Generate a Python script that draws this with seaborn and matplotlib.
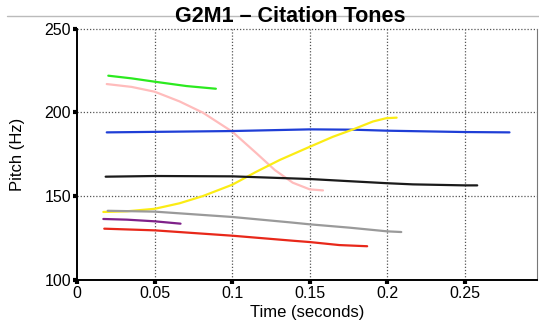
import pandas as pd
import seaborn as sns
import matplotlib.pyplot as plt
from matplotlib.lines import Line2D

# pitch tracks (time in s, pitch in Hz)
tones = ["green", "pink", "blue", "yellow", "black", "gray", "purple", "red"]

green_t = [0.020, 0.035, 0.050, 0.0705, 0.0894]
green_hz = [221.9, 220.3, 218.3, 215.7, 214.1]

pink_t = [0.019, 0.035, 0.050, 0.066, 0.081, 0.100, 0.1156, 0.1274, 0.139, 0.150, 0.1585]
pink_hz = [216.9, 215.2, 212.3, 206.5, 199.8, 188.4, 175.5, 165.5, 157.9, 153.9, 153.3]

blue_t = [0.019, 0.060, 0.100, 0.150, 0.178, 0.200, 0.250, 0.2788]
blue_hz = [188.0, 188.4, 188.8, 189.8, 189.6, 189.0, 188.2, 188.0]

yellow_t = [0.0168, 0.032, 0.050, 0.066, 0.081, 0.100, 0.1156, 0.1306, 0.150, 0.165, 0.178,
            0.1907, 0.1994, 0.206]
yellow_hz = [140.4, 140.8, 142.3, 145.6, 149.9, 156.7, 164.5, 171.5, 179.4, 185.4, 189.8,
             194.5, 196.5, 196.8]

black_t = [0.0183, 0.050, 0.100, 0.150, 0.1736, 0.1997, 0.2165, 0.250, 0.258]
black_hz = [161.5, 161.9, 161.7, 160.1, 158.9, 157.6, 156.9, 156.3, 156.3]

gray_t = [0.0196, 0.050, 0.100, 0.137, 0.150, 0.1757, 0.200, 0.209]
gray_hz = [141.1, 140.6, 137.4, 134.2, 133.0, 131.0, 128.8, 128.4]

purple_t = [0.0168, 0.032, 0.050, 0.0666]
purple_hz = [136.2, 135.8, 134.8, 133.4]

red_t = [0.0174, 0.050, 0.100, 0.139, 0.150, 0.169, 0.187]
red_hz = [130.4, 129.4, 126.2, 123.2, 122.4, 120.6, 119.9]

colors = {"green": "#2bea1f", "pink": "#ffbcbc", "blue": "#1f3ed6", "yellow": "#fbec14",
          "black": "#1a1a1a", "gray": "#9a9a9a", "purple": "#7f2189", "red": "#e8281a"}

tracks = {"green": (green_t, green_hz), "pink": (pink_t, pink_hz), "blue": (blue_t, blue_hz),
          "yellow": (yellow_t, yellow_hz), "black": (black_t, black_hz),
          "gray": (gray_t, gray_hz), "purple": (purple_t, purple_hz), "red": (red_t, red_hz)}

rows = []
for name in tones:
    t, hz = tracks[name]
    for a, b in zip(t, hz):
        rows.append({"tone": name, "time": a, "pitch": b})
df = pd.DataFrame(rows)

sns.set_style("white", {"text.color": "black", "axes.labelcolor": "black",
                        "xtick.color": "black", "ytick.color": "black"})
plt.rcParams["font.family"] = ["Liberation Sans", "DejaVu Sans"]

fig = plt.figure(figsize=(5.39, 3.30), dpi=100)
ax = fig.add_axes([0.1434, 0.153, 0.853, 0.760])

sns.lineplot(data=df, x="time", y="pitch", hue="tone", palette=colors, hue_order=tones,
             sort=False, estimator=None, legend=False, linewidth=1.6, ax=ax)

ax.set_xlim(0, 0.2966)
ax.set_ylim(100, 250)
ax.set_xticks([0, 0.05, 0.1, 0.15, 0.2, 0.25])
ax.set_xticklabels(["0", "0.05", "0.1", "0.15", "0.2", "0.25"])
ax.set_yticks([100, 150, 200, 250])
ax.tick_params(axis="both", direction="out", length=3, width=3, color="black",
               labelcolor="black", labelsize=11.5, pad=1.5, bottom=True, left=True)

for v in [0.05, 0.1, 0.15, 0.2, 0.25]:
    ax.axvline(v, color="#555555", lw=0.9, ls=(0, (1, 1.5)), zorder=0)
for v in [150, 200, 250]:
    ax.axhline(v, color="#555555", lw=0.9, ls=(0, (1, 1.5)), zorder=0, clip_on=False)

ax.spines["left"].set_linewidth(1.4)
ax.spines["left"].set_color("black")
ax.spines["bottom"].set_linewidth(1.4)
ax.spines["bottom"].set_color("black")
ax.spines["top"].set_visible(False)
ax.spines["right"].set_color("#777777")
ax.spines["right"].set_linewidth(0.8)

ax.set_xlabel("Time (seconds)", fontsize=12, labelpad=3, color="black")
ax.set_ylabel("Pitch (Hz)", fontsize=12, labelpad=14, color="black")

fig.add_artist(Line2D([7 / 539, 1], [1 - 16 / 330] * 2, color="#bbbbbb", lw=1))
fig.text(290 / 539, 1 - 16 / 330, "G2M1 \u2013 Citation Tones", ha="center", va="center",
         fontsize=15.5, fontweight="bold", color="black")

fig.savefig("out.png", dpi=100, facecolor="white")
